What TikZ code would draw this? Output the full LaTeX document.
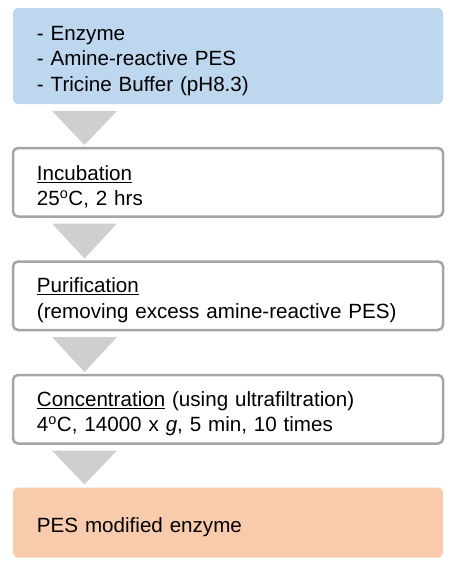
\documentclass[tikz,border=0pt]{standalone}
\usepackage{fontspec}
\setmainfont{Liberation Sans}
\usepackage{xcolor}
\usetikzlibrary{positioning}

\definecolor{inputblue}{HTML}{BDD7EE}
\definecolor{productpeach}{HTML}{F8CBAD}
\definecolor{framegray}{HTML}{A5A5A5}
\definecolor{arrowgray}{HTML}{D0CECE}

\begin{document}
\begin{tikzpicture}[
    x=1pt, y=1pt,
    node distance=44pt,
    stepbox/.style={rectangle, rounded corners=5pt, minimum width=430pt, minimum height=70pt, text width=382pt, inner xsep=24pt, outer sep=0pt, align=left, font=\fontsize{20.6}{25.5}\selectfont, execute at begin node={\rule{0pt}{24pt}}},
    procbox/.style={stepbox, draw=framegray, line width=2.5pt, fill=white, minimum height=68.5pt}
]
    \useasboundingbox (0,0) rectangle (459,-566);
    \node[stepbox, fill=inputblue, minimum height=96pt, anchor=north west] (mix) at (13,-8) {- Enzyme\\- Amine-reactive PES\\- Tricine Buffer (pH8.3)};
    \node[procbox, below=of mix] (incub) {\underline{Incubation}\\25\textsuperscript{o}C, 2 hrs};
    \node[procbox, below=45pt of incub] (purif) {\underline{Purification}\\(removing excess amine-reactive PES)};
    \node[procbox, below=45pt of purif] (conc) {\underline{Concentration} (using ultrafiltration)\\4\textsuperscript{o}C, 14000 x \textit{g}, 5 min, 10 times};
    \node[stepbox, fill=productpeach, below=of conc] (prod) {PES modified enzyme};

    \foreach \a/\b in {mix/incub, incub/purif, purif/conc, conc/prod}
        \fill[arrowgray] ([xshift=39pt,yshift=-7pt]\a.south west) -- ([xshift=104pt,yshift=-7pt]\a.south west) -- ([xshift=71.5pt,yshift=3pt]\b.north west) -- cycle;
\end{tikzpicture}
\end{document}
